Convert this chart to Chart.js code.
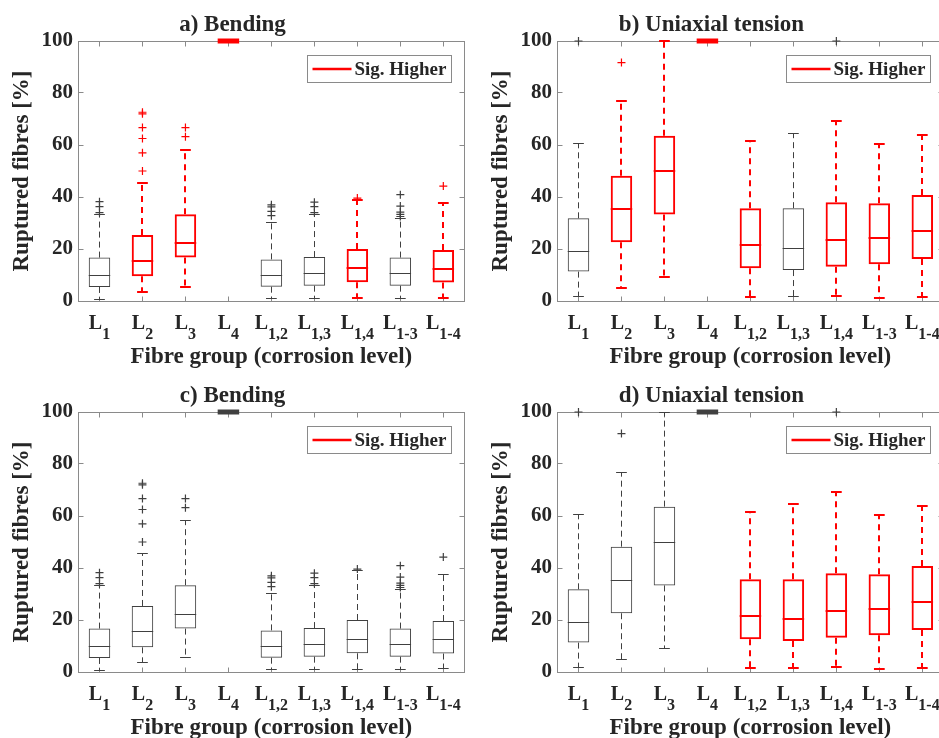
<!DOCTYPE html>
<html>
<head>
<meta charset="utf-8">
<script src="https://cdn.jsdelivr.net/npm/chart.js@4/dist/chart.umd.min.js"></script>
<style>
    html, body { margin: 0; padding: 0; background: #fff; }
    body { position: relative; width: 939px; height: 738px; overflow: hidden; }
    .painel { position: absolute; width: 470px; height: 369px; }
</style>
</head>
<body>
<div class="painel" style="left:0;top:0"><canvas data-id="graficoA" width="470" height="369"></canvas></div>
<div class="painel" style="left:479px;top:0"><canvas data-id="graficoB" width="470" height="369"></canvas></div>
<div class="painel" style="left:0;top:371px"><canvas data-id="graficoC" width="470" height="369"></canvas></div>
<div class="painel" style="left:479px;top:371px"><canvas data-id="graficoD" width="470" height="369"></canvas></div>
<script>
var grupos = ['L1', 'L2', 'L3', 'L4', 'L1,2', 'L1,3', 'L1,4', 'L1-3', 'L1-4'];
var indices = ['1', '2', '3', '4', '1,2', '1,3', '1,4', '1-3', '1-4'];
var ticksY = [0, 20, 40, 60, 80, 100];

// flexao: bigodes, quartis e mediana [%]
var flexaoMin = [0.6, 3.6, 5.5, 100, 0.8, 0.8, 1.0, 0.8, 1.3];
var flexaoQ1 = [5.4, 9.5, 16.7, 100, 5.5, 5.9, 7.2, 5.9, 7.1];
var flexaoMediana = [9.9, 15.4, 22.2, 100, 9.7, 10.6, 12.6, 10.6, 12.4];
var flexaoQ3 = [16.7, 25.4, 33.4, 100, 16.0, 16.9, 20.0, 16.7, 19.6];
var flexaoMax = [33.3, 45.5, 58.2, 100, 30.2, 33.3, 38.9, 31.9, 37.6];
var flexaoOutliers = [
    [34.0, 36.3, 38.2],
    [50.0, 57.0, 62.5, 66.7, 72.0, 72.6],
    [63.2, 66.7],
    [],
    [32.8, 34.5, 36.2, 37.0],
    [34.0, 36.3, 38.0],
    [39.6],
    [32.5, 33.3, 34.2, 36.5, 40.9],
    [44.2]
];

// tracao uniaxial
var tracaoMin = [1.7, 4.9, 9.1, 100, 1.7, 1.7, 1.9, 1.3, 1.7];
var tracaoQ1 = [11.3, 22.6, 33.3, 100, 12.6, 11.9, 13.2, 14.1, 16.2];
var tracaoMediana = [19.1, 35.3, 50.0, 100, 21.4, 20.3, 23.5, 24.3, 27.1];
var tracaoQ3 = [31.8, 48.2, 63.6, 100, 35.7, 35.7, 38.0, 37.6, 40.8];
var tracaoMax = [60.6, 76.9, 100, 100, 61.5, 64.5, 69.2, 60.4, 64.0];
var tracaoOutliers = [[100], [91.7], [], [], [], [], [100], [], []];

// 1 = significativamente maior (vermelho)
var sigA = [0, 1, 1, 1, 0, 0, 1, 0, 1];
var sigB = [0, 1, 1, 1, 1, 0, 1, 1, 1];
var sigC = [0, 0, 0, 0, 0, 0, 0, 0, 0];
var sigD = [0, 0, 0, 0, 1, 1, 1, 1, 1];

(function (window, document) {
    'use strict';

    var FONTE = "'Liberation Serif', 'Times New Roman', serif";
    var COR_TEXTO = '#262626';
    var COR_EIXO = '#8a8a8a';
    var VERMELHO = '#ff0000';
    var PRETO = '#404040';

    var flexao = { min: flexaoMin, q1: flexaoQ1, mediana: flexaoMediana, q3: flexaoQ3, max: flexaoMax, outliers: flexaoOutliers };
    var tracao = { min: tracaoMin, q1: tracaoQ1, mediana: tracaoMediana, q3: tracaoQ3, max: tracaoMax, outliers: tracaoOutliers };

    function alinhar(v, largura) {
        return Math.round(largura) % 2 ? Math.round(v - 0.5) + 0.5 : Math.round(v);
    }

    function linha(ctx, x1, y1, x2, y2) {
        ctx.beginPath();
        ctx.moveTo(x1, y1);
        ctx.lineTo(x2, y2);
        ctx.stroke();
    }

    function criarGrafico($canvas, titulo, dados, sig) {
        var cores = sig.map(function (s) { return s ? VERMELHO : PRETO; });
        var espessuras = sig.map(function (s) { return s ? 2 : 1; });
        var pontos = [];
        var corPontos = [];
        dados.outliers.forEach(function (lista, i) {
            lista.forEach(function (v) {
                pontos.push({ x: grupos[i], y: v });
                // marcadores em cima da moldura ficam escuros
                corPontos.push(v >= 100 ? PRETO : cores[i]);
            });
        });

        // moldura, ticks internos, bigodes, medianas, rotulos do eixo x e legenda
        var caixas = {
            id: 'caixas',
            beforeDatasetsDraw: function (chart) {
                var ctx = chart.ctx;
                var area = chart.chartArea;
                var sx = chart.scales.x;
                var sy = chart.scales.y;
                ctx.save();
                ctx.strokeStyle = COR_EIXO;
                ctx.lineWidth = 1;
                var l = alinhar(area.left, 1), r = alinhar(area.right, 1);
                var t = alinhar(area.top, 1), b = alinhar(area.bottom, 1);
                ctx.strokeRect(l, t, r - l, b - t);
                sy.ticks.forEach(function (tick) {
                    var py = alinhar(sy.getPixelForValue(tick.value), 1);
                    linha(ctx, l, py, l + 5, py);
                    linha(ctx, r, py, r - 5, py);
                });
                grupos.forEach(function (g, i) {
                    var px = alinhar(sx.getPixelForValue(i), 1);
                    linha(ctx, px, b, px, b - 5);
                    linha(ctx, px, t, px, t + 5);
                });
                ctx.restore();
            },
            afterDatasetsDraw: function (chart) {
                var ctx = chart.ctx;
                var sy = chart.scales.y;
                var barras = chart.getDatasetMeta(0).data;
                ctx.save();
                barras.forEach(function (barra, i) {
                    var cx = barra.x;
                    var meia = barra.width / 2;
                    var w = espessuras[i];
                    var ax = alinhar(cx, w);
                    ctx.strokeStyle = cores[i];
                    ctx.lineCap = 'butt';
                    if (dados.q1[i] === dados.q3[i]) {
                        // caixa degenerada: todos os valores iguais
                        ctx.lineWidth = 5;
                        var yd = sy.getPixelForValue(dados.mediana[i]);
                        linha(ctx, cx - meia, yd, cx + meia, yd);
                        return;
                    }
                    var yMin = alinhar(sy.getPixelForValue(dados.min[i]), w);
                    var yQ1 = sy.getPixelForValue(dados.q1[i]);
                    var yMed = alinhar(sy.getPixelForValue(dados.mediana[i]), w);
                    var yQ3 = sy.getPixelForValue(dados.q3[i]);
                    var yMax = alinhar(sy.getPixelForValue(dados.max[i]), w);
                    ctx.lineWidth = w;
                    ctx.setLineDash(w > 1 ? [6, 5] : [6, 4]);
                    linha(ctx, ax, yQ3, ax, yMax);
                    linha(ctx, ax, yQ1, ax, yMin);
                    ctx.setLineDash([]);
                    linha(ctx, cx - meia / 2, yMax, cx + meia / 2, yMax);
                    linha(ctx, cx - meia / 2, yMin, cx + meia / 2, yMin);
                    linha(ctx, cx - meia, yMed, cx + meia, yMed);
                });
                ctx.restore();
            },
            afterDraw: function (chart) {
                var ctx = chart.ctx;
                var area = chart.chartArea;
                var sx = chart.scales.x;
                ctx.save();
                ctx.fillStyle = COR_TEXTO;
                ctx.textBaseline = 'alphabetic';
                ctx.textAlign = 'left';
                indices.forEach(function (sub, i) {
                    var px = sx.getPixelForValue(i);
                    ctx.font = 'bold 20px ' + FONTE;
                    var wL = ctx.measureText('L').width;
                    ctx.font = 'bold 16px ' + FONTE;
                    var wS = ctx.measureText(sub).width;
                    var x0 = px - (wL + wS) / 2;
                    ctx.font = 'bold 20px ' + FONTE;
                    ctx.fillText('L', x0, area.bottom + 28);
                    ctx.font = 'bold 16px ' + FONTE;
                    ctx.fillText(sub, x0 + wL, area.bottom + 38);
                });

                var caixa = { w: 144, h: 27 };
                caixa.x = Math.round(area.right - 14 - caixa.w) + 0.5;
                caixa.y = Math.round(area.top + 14) + 0.5;
                ctx.fillStyle = '#fff';
                ctx.fillRect(caixa.x, caixa.y, caixa.w, caixa.h);
                ctx.strokeStyle = COR_EIXO;
                ctx.lineWidth = 1;
                ctx.strokeRect(caixa.x, caixa.y, caixa.w, caixa.h);
                ctx.strokeStyle = VERMELHO;
                ctx.lineWidth = 2.5;
                var ym = caixa.y + caixa.h / 2;
                linha(ctx, caixa.x + 5, ym, caixa.x + 44, ym);
                ctx.fillStyle = COR_TEXTO;
                ctx.font = 'bold 19px ' + FONTE;
                ctx.textBaseline = 'middle';
                ctx.fillText('Sig. Higher', caixa.x + 47, ym + 1);
                ctx.restore();
            }
        };

        return new Chart($canvas, {
            type: 'bar',
            data: {
                labels: grupos,
                datasets: [{
                    data: dados.q1.map(function (v, i) { return [v, dados.q3[i]]; }),
                    backgroundColor: 'rgba(0,0,0,0)',
                    borderColor: cores,
                    borderWidth: espessuras,
                    borderSkipped: false,
                    barPercentage: 0.5,
                    categoryPercentage: 1
                }, {
                    type: 'scatter',
                    data: pontos,
                    pointStyle: 'cross',
                    pointRadius: 4,
                    borderColor: corPontos,
                    borderWidth: 1.2,
                    clip: false
                }]
            },
            options: {
                responsive: false,
                animation: false,
                devicePixelRatio: 1,
                layout: { padding: { left: 0, right: 5, top: 0, bottom: 0 } },
                plugins: {
                    legend: { display: false },
                    tooltip: { enabled: false },
                    title: {
                        display: true,
                        text: titulo,
                        color: COR_TEXTO,
                        font: { family: FONTE, size: 23, weight: 'bold', lineHeight: 1.2 },
                        padding: { top: 11.4, bottom: 2 }
                    }
                },
                scales: {
                    x: {
                        grid: { display: false, drawTicks: false },
                        border: { display: false },
                        ticks: { display: false },
                        title: {
                            display: true,
                            text: 'Fibre group (corrosion level)',
                            color: COR_TEXTO,
                            font: { family: FONTE, size: 23, weight: 'bold', lineHeight: 1 },
                            padding: { top: 0, bottom: 0 }
                        },
                        afterFit: function (escala) { escala.height = 68; }
                    },
                    y: {
                        min: 0,
                        max: 100,
                        afterBuildTicks: function (escala) {
                            escala.ticks = ticksY.map(function (v) { return { value: v }; });
                        },
                        grid: { display: false, drawTicks: false },
                        border: { display: false },
                        ticks: {
                            color: COR_TEXTO,
                            font: { family: FONTE, size: 21, weight: 'bold' },
                            padding: 5
                        },
                        title: {
                            display: true,
                            text: 'Ruptured fibres [%]',
                            color: COR_TEXTO,
                            font: { family: FONTE, size: 23, weight: 'bold', lineHeight: 1.2 },
                            padding: { top: 8.4, bottom: 0 }
                        },
                        afterFit: function (escala) { escala.width = 78; }
                    }
                }
            },
            plugins: [caixas]
        });
    }

    criarGrafico(document.querySelector('[data-id="graficoA"]'), 'a) Bending', flexao, sigA);
    criarGrafico(document.querySelector('[data-id="graficoB"]'), 'b) Uniaxial tension', tracao, sigB);
    criarGrafico(document.querySelector('[data-id="graficoC"]'), 'c) Bending', flexao, sigC);
    criarGrafico(document.querySelector('[data-id="graficoD"]'), 'd) Uniaxial tension', tracao, sigD);
})(window, document);
</script>
</body>
</html>
